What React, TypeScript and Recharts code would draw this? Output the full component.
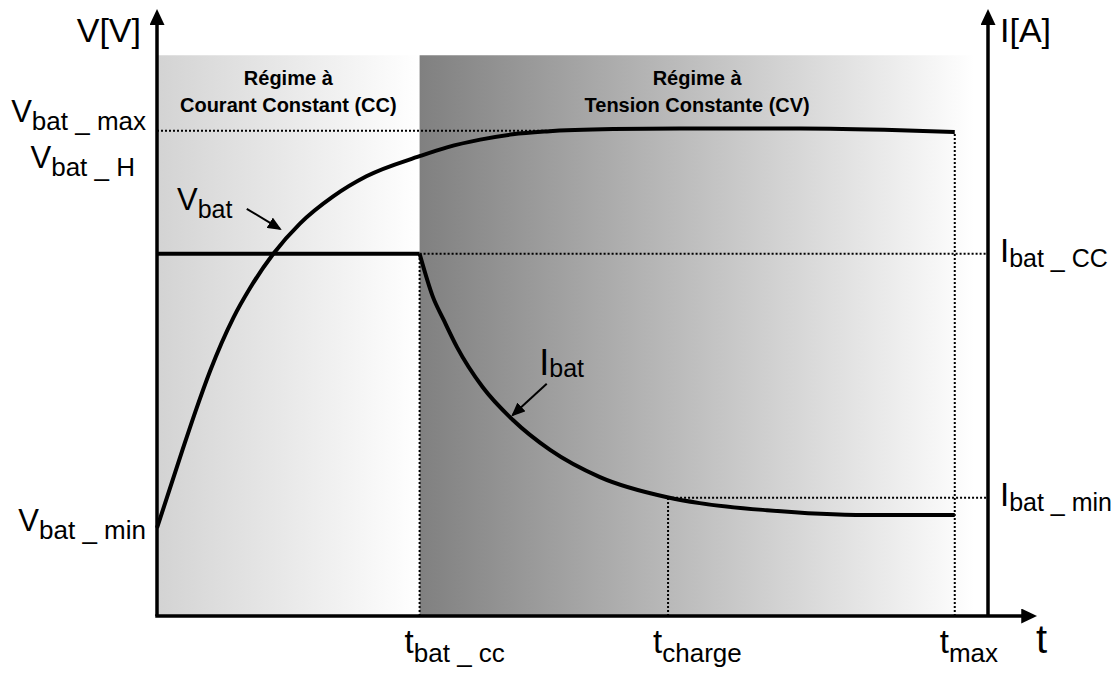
import { ComposedChart, Line, XAxis, YAxis, ReferenceArea, ReferenceLine, ReferenceDot } from 'recharts'

const FONT = '"Liberation Sans", Arial, Helvetica, sans-serif'

// time axis, arbitrary units: 0 = V axis, 100 = I axis
const tBatCC = 31.6
const tCharge = 61.5
const tMax = 96
const tArrow = 104
const xTicks = [tBatCC, tCharge, tMax]
const xTickLabels = [['t', 'bat _ cc'], ['t', 'charge'], ['t', 'max']]

// voltage levels (arbitrary units)
const vMin = 14.9
const vHigh = 74.3
const vMax = 82.1
const vTicks = [vMin, vHigh, vMax]
const vTickLabels = [['V', 'bat _ min'], ['V', 'bat _ H'], ['V', 'bat _ max']]

// current levels (arbitrary units)
const iCC = 61.3
const iMin = 20.0
const iTicks = [iMin, iCC]
const iTickLabels = [['I', 'bat _ min'], ['I', 'bat _ CC']]

// V_bat curve
const vTime = [0, 3.0, 4.6, 6.4, 9.2, 11.2, 14.0, 17.2, 21.2, 25.2, 31.6, 34.9, 38.9, 42.8, 46.9, 54.9, 62.9, 77.4, 89.4, 96.0]
const vBat = [14.9, 27.8, 34.5, 41.5, 50.5, 55.5, 61.3, 66.4, 71.0, 74.4, 77.8, 79.3, 80.6, 81.5, 82.0, 82.4, 82.5, 82.5, 82.2, 81.9]

// I_bat: constant current phase, then constant voltage phase
const iTimeCC = [0, 31.6]
const iBatCC = [61.3, 61.3]
const iTimeCV = [31.6, 33.2, 34.5, 36.1, 39.2, 42.8, 47.3, 53.3, 61.4, 65.3, 73.4, 85.4, 96.0]
const iBatCV = [61.3, 54.0, 50.1, 45.5, 38.7, 33.2, 28.1, 23.5, 20.1, 19.1, 17.9, 17.1, 17.1]

const ccTitle = ['Régime à', 'Courant Constant (CC)']
const cvTitle = ['Régime à', 'Tension Constante (CV)']
const regionTop = 94.9
const cvEnd = 98.4

const vData = vTime.map((t, k) => ({ t, v: vBat[k] }))
const iDataCC = iTimeCC.map((t, k) => ({ t, i: iBatCC[k] }))
const iDataCV = iTimeCV.map((t, k) => ({ t, i: iBatCV[k] }))

// placement of the V tick labels (min is centred, the others sit above their level)
const V_BASE = [3, -9, -9]
const V_DX = [0, -11, 0]

const dotted = { stroke: '#000', strokeWidth: 2, strokeDasharray: '2 2' }

function SubLabel({ x, y, main, sub, size, subSize, subDy, anchor = 'start' }: any) {
  return (
    <text x={x} y={y} textAnchor={anchor} fontFamily={FONT} fill='#000'>
      <tspan fontSize={size}>{main}</tspan>
      <tspan fontSize={subSize} dy={subDy}>{sub}</tspan>
    </text>
  )
}

function VTick({ x, y, payload }: any) {
  const k = vTicks.indexOf(payload.value)
  if (k < 0) return null
  return <SubLabel x={x + V_DX[k]} y={y + V_BASE[k]} main={vTickLabels[k][0]} sub={vTickLabels[k][1]} size={31} subSize={26} subDy={8} anchor='end' />
}

function ITick({ x, y, payload }: any) {
  const k = iTicks.indexOf(payload.value)
  if (k < 0) return null
  return <SubLabel x={x} y={y + 8} main={iTickLabels[k][0]} sub={iTickLabels[k][1]} size={33} subSize={25} subDy={5} />
}

function TTick({ x, y, payload }: any) {
  const k = xTicks.indexOf(payload.value)
  if (k < 0) return null
  return <SubLabel x={x - 15} y={y + 37} main={xTickLabels[k][0]} sub={xTickLabels[k][1]} size={33} subSize={26} subDy={9} />
}

function RegionTitle({ viewBox, lines }: any) {
  if (!viewBox) return null
  const cx = viewBox.x + viewBox.width / 2
  return (
    <text x={cx} y={viewBox.y + 30} textAnchor='middle' fontFamily={FONT} fontWeight='bold' fontSize={20} fill='#000'>
      <tspan x={cx}>{lines[0]}</tspan>
      <tspan x={cx} dy={27}>{lines[1]}</tspan>
    </text>
  )
}

function AxisName({ viewBox, text, side }: any) {
  if (!viewBox) return null
  if (side === 'left')
    return <text x={viewBox.x + viewBox.width - 16} y={viewBox.y + 17} textAnchor='end' fontFamily={FONT} fontSize={34}>{text}</text>
  if (side === 'right')
    return <text x={viewBox.x + 12} y={viewBox.y + 17} fontFamily={FONT} fontSize={34}>{text}</text>
  return <text x={viewBox.x + viewBox.width + 48} y={viewBox.y + 37} fontFamily={FONT} fontSize={40}>{text}</text>
}

function CurveName({ viewBox, main, sub, size, subDy }: any) {
  if (!viewBox) return null
  return <SubLabel x={viewBox.x} y={viewBox.y} main={main} sub={sub} size={size} subSize={25} subDy={subDy} />
}

export default function App() {
  return (
    <div style={{ position: 'absolute', left: 0, top: 0, background: '#fff' }}>
      <ComposedChart width={1118} height={673} margin={{ top: 25, right: 0, bottom: 0, left: 0 }}>
        <defs>
          <linearGradient id='ccFill' x1='0' y1='0' x2='1' y2='0'>
            <stop offset='0' stopColor='#d3d3d3' />
            <stop offset='1' stopColor='#ffffff' />
          </linearGradient>
          <linearGradient id='cvFill' x1='0' y1='0' x2='1' y2='0'>
            <stop offset='0' stopColor='#808080' />
            <stop offset='1' stopColor='#ffffff' />
          </linearGradient>
          <marker id='axisHead' viewBox='0 0 16 15' refX='0' refY='7.5' markerWidth='16' markerHeight='15' markerUnits='userSpaceOnUse' orient='auto-start-reverse'>
            <path d='M0,0 L16,7.5 L0,15 z' fill='#000' />
          </marker>
          <marker id='noteHead' viewBox='0 0 14 12' refX='12' refY='6' markerWidth='14' markerHeight='12' markerUnits='userSpaceOnUse' orient='auto'>
            <path d='M0,0 L14,6 L0,12 z' fill='#000' />
          </marker>
        </defs>

        <ReferenceArea yAxisId='v' x1={0} x2={tBatCC} y1={0} y2={regionTop} fill='url(#ccFill)' fillOpacity={1} stroke='none' label={<RegionTitle lines={ccTitle} />} />
        <ReferenceArea yAxisId='v' x1={tBatCC} x2={cvEnd} y1={0} y2={regionTop} fill='url(#cvFill)' fillOpacity={1} stroke='none' label={<RegionTitle lines={cvTitle} />} />

        <ReferenceLine yAxisId='v' segment={[{ x: 0, y: vMax }, { x: 48, y: vMax }]} {...dotted} />
        <ReferenceLine yAxisId='i' segment={[{ x: tBatCC, y: iCC }, { x: 100, y: iCC }]} {...dotted} />
        <ReferenceLine yAxisId='i' segment={[{ x: tCharge, y: iMin }, { x: 100, y: iMin }]} {...dotted} />
        <ReferenceLine yAxisId='i' segment={[{ x: tBatCC, y: 0 }, { x: tBatCC, y: iCC }]} {...dotted} />
        <ReferenceLine yAxisId='i' segment={[{ x: tCharge, y: 0 }, { x: tCharge, y: iMin }]} {...dotted} />
        <ReferenceLine yAxisId='v' segment={[{ x: tMax, y: 0 }, { x: tMax, y: vBat[vBat.length - 1] }]} {...dotted} />

        <Line yAxisId='v' data={vData} dataKey='v' type='monotone' stroke='#000' strokeWidth={4} dot={false} activeDot={false} isAnimationActive={false} legendType='none' />
        <Line yAxisId='i' data={iDataCC} dataKey='i' type='linear' stroke='#000' strokeWidth={4} dot={false} activeDot={false} isAnimationActive={false} legendType='none' />
        <Line yAxisId='i' data={iDataCV} dataKey='i' type='monotone' stroke='#000' strokeWidth={4} dot={false} activeDot={false} isAnimationActive={false} legendType='none' />

        <ReferenceLine yAxisId='v' segment={[{ x: 10.8, y: 68.9 }, { x: 14.8, y: 65.5 }]} stroke='#000' strokeWidth={2} markerEnd='url(#noteHead)' />
        <ReferenceLine yAxisId='i' segment={[{ x: 46.9, y: 39.3 }, { x: 42.8, y: 34.0 }]} stroke='#000' strokeWidth={2} markerEnd='url(#noteHead)' />
        <ReferenceDot yAxisId='v' x={2.4} y={68.7} r={0} fill='none' stroke='none' label={<CurveName main='V' sub='bat' size={31} subDy={8} />} />
        <ReferenceDot yAxisId='i' x={46.0} y={40.8} r={0} fill='none' stroke='none' label={<CurveName main='I' sub='bat' size={36} subDy={2} />} />

        <ReferenceLine yAxisId='v' segment={[{ x: 0, y: 0 }, { x: tArrow, y: 0 }]} ifOverflow='visible' stroke='#000' strokeWidth={3.5} strokeLinecap='square' markerEnd='url(#axisHead)' />

        <XAxis dataKey='t' type='number' domain={[0, 100]} ticks={xTicks} interval={0} height={57} axisLine={false} tickLine={false} tickSize={0} tickMargin={0} tick={TTick} label={<AxisName text='t' side='bottom' />} />
        <YAxis yAxisId='v' type='number' domain={[0, 100]} ticks={vTicks} interval={0} width={157} axisLine={{ stroke: '#000', strokeWidth: 3.5, markerStart: 'url(#axisHead)' }} tickLine={false} tickSize={0} tickMargin={11} tick={VTick} label={<AxisName text='V[V]' side='left' />} />
        <YAxis yAxisId='i' orientation='right' type='number' domain={[0, 100]} ticks={iTicks} interval={0} width={130} axisLine={{ stroke: '#000', strokeWidth: 3.5, markerStart: 'url(#axisHead)' }} tickLine={false} tickSize={0} tickMargin={12} tick={ITick} label={<AxisName text='I[A]' side='right' />} />
      </ComposedChart>
    </div>
  )
}
